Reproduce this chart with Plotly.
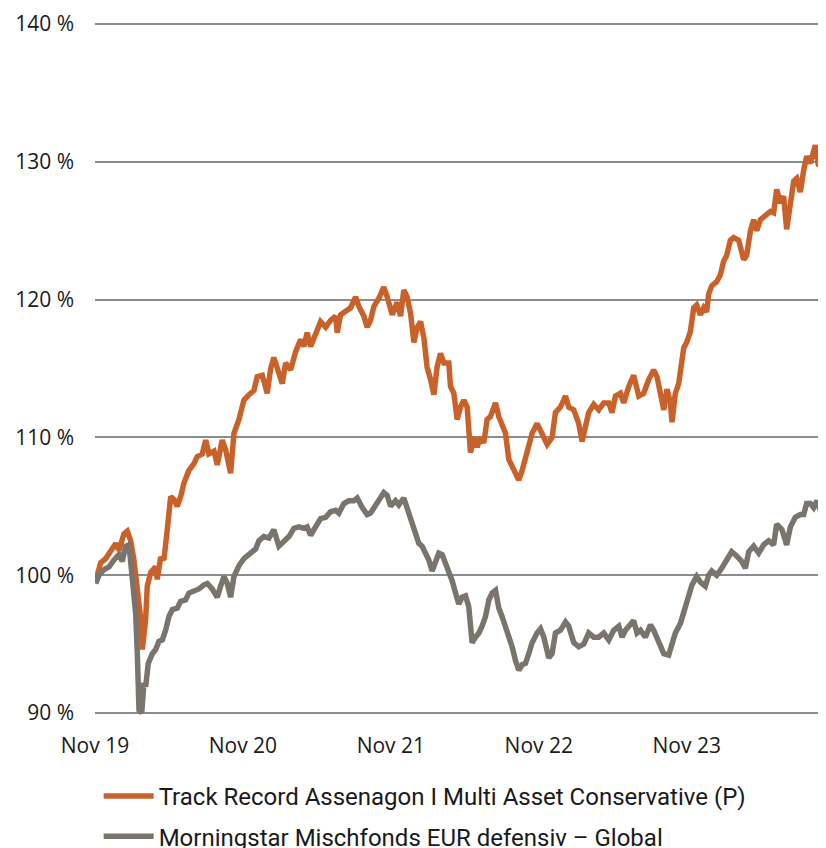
import plotly.graph_objects as go

# x = months since Nov 2019
orange_x = [0.06,0.46,0.87,1.38,1.68,1.95,2.35,2.62,2.89,3.16,3.43,3.71,3.84,4.11,4.24,4.52,4.92,5.05,5.33,5.59,
            5.86,6.14,6.41,6.67,6.95,7.22,7.62,8.03,8.29,8.70,8.98,9.24,9.65,9.92,10.32,10.60,11.00,11.27,11.68,
            12.08,12.49,12.89,13.16,13.57,13.97,14.25,14.51,14.78,15.19,15.46,15.87,16.27,16.68,16.95,17.21,17.49,
            17.90,18.30,18.71,19.11,19.52,19.65,19.92,20.33,20.73,21.14,21.41,21.81,22.08,22.35,22.62,23.03,23.43,
            23.70,23.98,24.11,24.51,24.79,25.05,25.32,25.60,25.87,26.14,26.41,26.68,26.94,27.22,27.49,27.75,28.03,
            28.30,28.70,28.84,29.11,29.38,29.65,29.92,30.19,30.46,30.73,31.00,31.27,31.54,31.81,32.08,32.49,32.76,
            33.02,33.30,33.57,33.84,34.11,34.38,34.65,34.92,35.19,35.46,35.86,36.27,36.68,37.08,37.35,37.76,38.17,
            38.43,38.84,39.24,39.51,39.79,40.05,40.46,40.86,41.27,41.68,41.94,42.22,42.62,42.89,43.30,43.70,44.11,
            44.51,44.92,45.32,45.59,45.87,46.14,46.40,46.68,46.81,47.08,47.35,47.49,47.76,48.00,48.30,48.57,48.81,
            49.11,49.38,49.62,49.78,50.03,50.43,50.73,51.00,51.24,51.54,51.81,52.22,52.62,52.86,53.17,53.43,53.68,
            53.98,54.38,54.79,55.05,55.30,55.60,55.86,56.11,56.41,56.68,56.92,57.22,57.49,57.73,58.03,58.30,58.43,
            58.70,58.95,59.19]
orange_y = [99.6,100.9,101.2,101.95,102.3,101.8,103.0,103.2,102.5,101.1,99.2,96.8,94.6,96.8,99.2,100.2,100.6,99.7,101.3,101.1,
            103.3,105.7,105.5,105.0,105.7,106.7,107.6,108.1,108.6,108.8,109.8,108.8,109.0,108.0,109.8,109.1,107.4,110.3,111.3,
            112.7,113.1,113.4,114.4,114.5,113.2,115.0,115.8,114.9,113.9,115.4,114.9,116.2,117.1,116.6,117.6,116.6,
            117.6,118.4,118.0,118.5,118.8,117.6,118.9,119.1,119.4,120.2,119.5,118.8,118.0,118.5,119.5,120.1,120.9,
            120.2,119.4,118.9,119.8,118.8,120.7,120.2,119.0,116.9,118.0,118.4,117.2,115.1,114.2,113.1,115.1,116.1,
            115.4,115.4,113.7,113.2,111.3,112.2,112.7,112.2,108.9,110.0,109.3,110.0,109.6,111.3,111.5,112.5,111.5,
            110.8,110.3,108.4,107.9,107.4,106.9,107.6,108.6,109.3,110.3,111.0,110.3,109.5,110.0,111.8,112.2,113.0,
            112.2,112.0,111.0,109.7,110.8,111.8,112.4,112.0,112.5,112.5,111.8,113.0,113.2,112.5,113.7,114.5,113.0,
            113.2,114.2,114.9,114.4,113.2,112.0,113.5,112.5,111.1,113.2,113.9,115.1,116.5,116.9,117.7,119.4,119.6,
            118.9,119.4,119.1,120.4,121.0,121.3,121.8,122.8,123.2,124.3,124.5,124.3,122.9,123.2,125.0,125.8,125.0,
            125.8,126.1,126.4,126.3,128.0,127.0,127.5,125.1,127.2,128.6,128.8,127.8,129.4,130.4,129.9,130.7,131.2,
            129.7,130.0,129.2]

gray_x = [0.06,0.32,0.73,1.14,1.54,1.95,2.21,2.49,2.76,2.89,3.02,3.30,3.43,3.57,3.79,3.97,4.11,4.32,4.65,4.92,
          5.19,5.46,5.73,6.00,6.27,6.67,6.95,7.35,7.62,8.03,8.43,8.84,9.11,9.51,9.92,10.19,10.46,10.73,11.00,11.27,
          11.68,12.08,12.62,13.03,13.30,13.70,14.11,14.51,14.92,15.32,15.73,16.14,16.54,16.95,17.21,17.49,17.90,
          18.30,18.71,19.11,19.52,19.78,20.19,20.59,21.00,21.27,21.68,22.08,22.35,22.62,23.03,23.43,23.70,23.98,
          24.38,24.65,25.05,25.32,25.73,26.00,26.27,26.54,26.82,27.08,27.35,27.62,27.89,28.16,28.44,28.70,28.97,
          29.25,29.51,29.78,30.06,30.32,30.59,30.87,31.14,31.40,31.68,31.95,32.22,32.49,32.76,33.02,33.30,33.57,
          33.84,34.11,34.38,34.65,34.92,35.19,35.46,35.86,36.14,36.41,36.81,37.08,37.35,37.76,38.17,38.43,38.84,
          39.24,39.65,40.05,40.46,40.86,41.27,41.68,42.08,42.49,42.76,43.03,43.43,43.70,43.97,44.25,44.65,45.06,
          45.32,45.73,46.14,46.54,46.81,47.08,47.49,47.90,48.16,48.43,48.81,49.11,49.51,49.78,50.03,50.43,50.84,
          51.24,51.65,52.05,52.46,52.76,53.03,53.43,53.84,54.24,54.65,55.05,55.30,55.73,56.11,56.41,56.81,57.22,
          57.49,57.73,58.03,58.30,58.57,58.84,59.11]
gray_y = [99.4,100.0,100.4,100.6,101.1,101.5,101.0,102.1,102.2,100.9,99.4,97.2,94.4,90.2,90.0,92.2,91.9,93.6,94.3,94.6,
          95.2,95.3,96.0,97.0,97.5,97.6,98.1,98.2,98.7,98.8,99.0,99.3,99.4,99.0,98.4,99.2,99.9,99.4,98.4,99.9,
          100.7,101.2,101.6,101.9,102.5,102.8,102.7,103.3,102.1,102.5,102.8,103.4,103.5,103.4,103.5,102.9,103.6,
          104.1,104.2,104.6,104.7,104.5,105.2,105.4,105.4,105.6,104.9,104.4,104.5,104.9,105.4,106.0,105.8,105.0,
          105.4,105.1,105.6,104.9,103.7,103.0,102.3,102.1,101.6,101.1,100.3,101.1,101.6,101.5,100.9,100.4,99.6,
          98.7,97.9,98.4,98.5,97.7,95.1,95.5,95.8,96.3,97.0,98.2,98.7,98.9,97.6,97.0,96.3,95.5,
          94.8,93.8,93.1,93.5,93.6,94.3,95.1,95.8,96.1,95.5,94.0,94.3,95.8,96.0,96.6,96.3,95.1,
          94.8,95.0,95.8,95.5,95.5,95.8,95.3,96.0,96.3,95.5,96.0,96.5,96.7,95.8,96.0,95.5,96.4,
          96.0,95.1,94.3,94.2,95.1,95.8,96.5,97.8,98.5,99.3,99.9,99.5,99.2,100.0,100.3,100.0,100.5,
          101.2,101.7,101.4,101.0,100.5,101.7,102.1,101.6,102.2,102.5,102.2,103.7,103.3,102.2,103.5,104.2,104.4,
          104.4,105.2,105.2,104.9,105.4,104.7,105.2]

x_tickvals = [0, 12, 24, 36, 48]
x_ticktext = ["Nov 19", "Nov 20", "Nov 21", "Nov 22", "Nov 23"]
y_tickvals = [90, 100, 110, 120, 130, 140]
y_ticktext = ["90 %", "100 %", "110 %", "120 %", "130 %", "140 %"]

name_orange = "Track Record Assenagon I Multi Asset Conservative (P)"
name_gray = "Morningstar Mischfonds EUR defensiv – Global"

fig = go.Figure()
fig.add_trace(go.Scatter(x=orange_x, y=orange_y, mode="lines", name=name_orange,
                         line=dict(color="#C8622A", width=5.5), legendgroup="a"))
fig.add_trace(go.Scatter(x=gray_x, y=gray_y, mode="lines", name=name_gray,
                         line=dict(color="#7B746D", width=5.5), legendgroup="b"))

# page body has an 8px default margin, so the figure is 818x840
W, H = 818, 840
fig.update_layout(
    width=W, height=H,
    margin=dict(l=87, r=0, t=14, b=133),
    paper_bgcolor="white", plot_bgcolor="white",
    font=dict(family="Open Sans, sans-serif", color="#1a1a1a", size=21),
    showlegend=True,
    legend=dict(orientation="v", x=0.005, xanchor="left",
                yref="container", y=1 - 766 / H, yanchor="top",
                font=dict(family="Roboto, sans-serif", size=24, color="#1a1a1a"),
                tracegroupgap=6, itemwidth=50, bgcolor="rgba(0,0,0,0)"),
    xaxis=dict(range=[0, 59.3], tickvals=x_tickvals, ticktext=x_ticktext,
               showgrid=False, zeroline=False, showline=False, ticks="",
               ticklabelstandoff=16, automargin=False),
    yaxis=dict(range=[89.85, 140.15], tickvals=y_tickvals, ticktext=y_ticktext,
               showgrid=True, gridcolor="#8C8C8C", gridwidth=2, zeroline=False,
               showline=False, ticks="", ticklabelstandoff=20, automargin=False),
)

fig.write_html("out.html")
